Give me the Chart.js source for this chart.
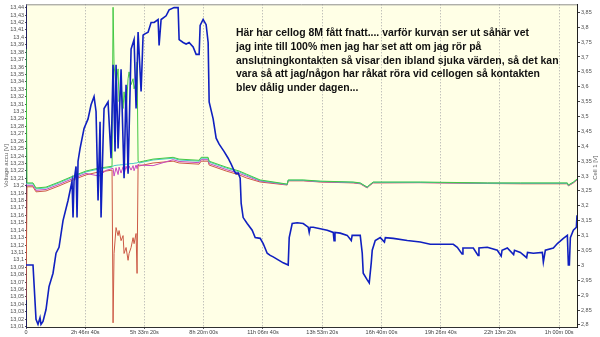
<!DOCTYPE html>
<html>
<head>
<meta charset="utf-8">
<script src="https://cdn.jsdelivr.net/npm/chart.js@4.4.1/dist/chart.umd.min.js"></script>
<style>
  html, body { margin: 0; padding: 0; background: #fff; }
  #c { display: block; }
</style>
</head>
<body>
<canvas id="c" width="600" height="337"></canvas>
<script>
// tid i sekunder från start
const blueTimes = [0, 1182, 1689, 2027, 2365, 2534, 2871, 3378, 3885, 4560, 5067, 5574, 6249, 7094, 7769, 7938, 8107, 8445, 8614, 8783,
  9121, 9796, 10472, 10979, 11486, 11823, 12161, 12498, 12667, 13005, 13174, 13850, 14357, 14695, 15032, 15201, 15539, 16046, 16553, 16890,
  17228, 17735, 18242, 18580, 18918, 19425, 19762, 19931, 20607, 21114, 21621, 22296, 22465, 22803, 23648, 24155, 24999, 25675, 25844, 26520,
  27026, 27533, 28209, 28716, 29222, 29391, 29898, 30405, 30743, 30912, 31587, 32094, 32601, 33446, 34122, 34629, 35135, 35473, 35811, 36149,
  36318, 36655, 37331, 38175, 38682, 39527, 40033, 40709, 41216, 41722, 42567, 43411, 44256, 44425, 44931, 45776, 46789, 47633, 47800, 47970,
  48478, 49660, 50839, 51853, 52000, 52150, 53035, 54218, 54900, 55050, 55231, 56413, 56751, 56920, 57595, 57933, 58271, 58440, 58946, 59791,
  60500, 60650, 61986, 64351, 66546, 68236, 72120, 72796, 73600, 73750, 74485, 75498, 76300, 76450, 77863, 79552, 80200, 80350, 81241, 82300,
  82450, 83436, 84500, 84650, 85632, 87152, 87321, 87659, 89010, 89686, 90699, 91374, 91543, 91712, 91881, 92388, 92894, 93000];
const blueAccu = [13.093, 13.093, 13.020, 13.013, 13.022, 13.013, 13.017, 13.033, 13.064, 13.082, 13.109, 13.117, 13.153, 13.180, 13.206, 13.157, 13.206, 13.226, 13.157, 13.233,
  13.250, 13.277, 13.290, 13.309, 13.320, 13.300, 13.180, 13.286, 13.157, 13.260, 13.304, 13.313, 13.237, 13.363, 13.246, 13.363, 13.250, 13.357, 13.210, 13.336,
  13.216, 13.384, 13.397, 13.304, 13.407, 13.327, 13.403, 13.404, 13.407, 13.420, 13.420, 13.424, 13.389, 13.424, 13.429, 13.437, 13.440, 13.440, 13.397, 13.393,
  13.391, 13.393, 13.387, 13.377, 13.377, 13.416, 13.424, 13.417, 13.393, 13.313, 13.290, 13.264, 13.256, 13.246, 13.237, 13.229, 13.220, 13.216, 13.217, 13.210,
  13.176, 13.157, 13.149, 13.140, 13.130, 13.129, 13.122, 13.109, 13.106, 13.104, 13.100, 13.096, 13.093, 13.130, 13.149, 13.150, 13.149, 13.144, 13.137, 13.144,
  13.144, 13.142, 13.140, 13.137, 13.126, 13.137, 13.136, 13.133, 13.126, 13.133, 13.133, 13.133, 13.109, 13.082, 13.073, 13.069, 13.096, 13.113, 13.126, 13.130,
  13.124, 13.130, 13.129, 13.126, 13.124, 13.121, 13.121, 13.117, 13.108, 13.116, 13.116, 13.116, 13.106, 13.116, 13.117, 13.113, 13.105, 13.113, 13.116, 13.107,
  13.113, 13.110, 13.103, 13.110, 13.109, 13.110, 13.097, 13.113, 13.116, 13.122, 13.129, 13.133, 13.093, 13.093, 13.130, 13.140, 13.144, 13.160];

const cellTimes = [0, 169, 338, 1182, 1689, 3378, 5574, 7938, 10134, 12330, 13512, 14525, 14695, 14863, 15201, 15539, 15708, 16046, 16383, 16552,
  16890, 17228, 17397, 17735, 18072, 18241, 18579, 18748, 18917, 19086, 21450, 24828, 25842, 29220, 29558, 30740, 30909, 33780, 35976, 37158,
  39522, 44083, 44252, 46785, 49657, 55231, 56413, 57595, 57933, 58609, 66547, 77863, 83437, 91375, 91543, 92388, 93000];
const cellGreen = [3.727, 3.277, 3.277, 3.277, 3.260, 3.263, 3.280, 3.300, 3.317, 3.327, 3.330, 3.333, 3.867, 3.673, 3.607, 3.660, 3.550, 3.607, 3.527, 3.583,
  3.517, 3.627, 3.650, 3.607, 3.627, 3.593, 3.617, 3.683, 3.350, 3.347, 3.357, 3.363, 3.357, 3.353, 3.363, 3.363, 3.350, 3.330, 3.317, 3.307,
  3.287, 3.273, 3.287, 3.287, 3.283, 3.280, 3.277, 3.263, 3.270, 3.280, 3.280, 3.277, 3.277, 3.277, 3.270, 3.280, 3.290];
const cellCyan = [3.277, 3.274, 3.274, 3.274, 3.257, 3.260, 3.277, 3.297, 3.314, 3.324, 3.327, 3.330, 3.333, 3.335, 3.336, 3.337, 3.337, 3.338, 3.338, 3.339,
  3.340, 3.340, 3.341, 3.342, 3.342, 3.343, 3.344, 3.344, 3.347, 3.344, 3.354, 3.360, 3.354, 3.350, 3.360, 3.360, 3.347, 3.327, 3.314, 3.304,
  3.285, 3.272, 3.286, 3.286, 3.282, 3.279, 3.276, 3.262, 3.269, 3.279, 3.279, 3.276, 3.276, 3.276, 3.269, 3.279, 3.289];
const cellMagenta = [3.272, 3.269, 3.269, 3.269, 3.252, 3.255, 3.272, 3.292, 3.309, 3.300, 3.319, 3.325, 3.326, 3.300, 3.328, 3.305, 3.330, 3.310, 3.331, 3.306,
  3.333, 3.315, 3.334, 3.320, 3.335, 3.318, 3.337, 3.325, 3.340, 3.337, 3.335, 3.355, 3.349, 3.345, 3.355, 3.355, 3.342, 3.322, 3.309, 3.300,
  3.283, 3.271, 3.285, 3.285, 3.281, 3.278, 3.275, 3.261, 3.268, 3.278, 3.278, 3.276, 3.275, 3.275, 3.268, 3.278, 3.288];
const cellRed = [2.883, 3.264, 3.264, 3.264, 3.247, 3.250, 3.267, 3.287, 3.304, 3.314, 3.317, 3.320, 2.807, 3.040, 3.127, 3.100, 3.117, 3.083, 3.100, 3.040,
  3.060, 3.017, 3.040, 3.060, 3.093, 3.073, 3.107, 2.973, 3.337, 3.334, 3.344, 3.350, 3.344, 3.340, 3.350, 3.350, 3.337, 3.317, 3.304, 3.294,
  3.280, 3.270, 3.284, 3.284, 3.280, 3.277, 3.274, 3.260, 3.267, 3.277, 3.278, 3.275, 3.274, 3.274, 3.267, 3.277, 3.287];

const xTickValues = [0, 10000, 20000, 30000, 40000, 50000, 60000, 70000, 80000, 90000];
const xTickLabels = ["0", "2h 46m 40s", "5h 33m 20s", "8h 20m 00s", "11h 06m 40s", "13h 53m 20s",
  "16h 40m 00s", "19h 26m 40s", "22h 13m 20s", "1h 00m 00s"];
const leftTicks = [];
for (let k = 1301; k <= 1344; k++) leftTicks.push(k / 100);
const rightTicks = [];
for (let k = 56; k <= 77; k++) rightTicks.push(k * 5 / 100);

const noteLines = [
  "Här har cellog 8M fått fnatt.... varför kurvan ser ut såhär vet",
  "jag inte till 100% men jag har set att om jag rör på",
  "anslutningkontakten så visar den ibland sjuka värden, så det kan",
  "vara så att jag/någon har råkat röra vid cellogen så kontakten",
  "blev dålig under dagen..."
];

const pts = (xs, ys) => xs.map((x, i) => ({ x: x, y: ys[i] }));
const fmt = v => String(Math.round(v * 100) / 100).replace('.', ',');
const tickFont = { family: 'Liberation Sans', size: 5.5 };

const decor = {
  id: 'decor',
  beforeDraw(chart) {
    const { ctx, chartArea: a } = chart;
    ctx.save();
    ctx.fillStyle = '#ffffe6';
    ctx.fillRect(a.left, a.top, a.right - a.left, a.bottom - a.top);
    ctx.restore();
  },
  afterDraw(chart) {
    const { ctx, chartArea: a } = chart;
    ctx.save();
    ctx.strokeStyle = '#909090';
    ctx.lineWidth = 1;
    ctx.beginPath();
    ctx.moveTo(a.left, a.top + 0.5);
    ctx.lineTo(a.right, a.top + 0.5);
    ctx.stroke();

    // axeltitlar
    ctx.fillStyle = '#606060';
    ctx.font = '6px "Liberation Sans"';
    ctx.textAlign = 'center';
    ctx.textBaseline = 'middle';
    const mid = (a.top + a.bottom) / 2;
    ctx.save();
    ctx.translate(6, mid);
    ctx.rotate(-Math.PI / 2);
    ctx.fillText('Voltage accu [V]', 0, 0);
    ctx.restore();
    ctx.save();
    ctx.translate(595, mid + 2);
    ctx.rotate(-Math.PI / 2);
    ctx.fillText('Cell 1 [V]', 0, 0);
    ctx.restore();

    // kommentaren
    const fam = '"Comic Sans MS", "Liberation Sans", sans-serif';
    ctx.font = 'bold 10px ' + fam;
    const w = ctx.measureText(noteLines[0]).width;
    const size = 10 * 293 / w;
    ctx.font = 'bold ' + size.toFixed(2) + 'px ' + fam;
    ctx.fillStyle = '#111';
    ctx.textAlign = 'left';
    noteLines.forEach((s, i) => ctx.fillText(s, 236, 33.5 + i * 13.7));
    ctx.restore();
  }
};

new Chart(document.getElementById('c'), {
  type: 'line',
  data: {
    datasets: [
      { label: 'Voltage accu', data: pts(blueTimes, blueAccu), yAxisID: 'yL', borderColor: '#1020c0', borderWidth: 1.6 },
      { label: 'Cell 2', data: pts(cellTimes, cellGreen), yAxisID: 'yR', borderColor: '#44c844', borderWidth: 1 },
      { label: 'Cell 3', data: pts(cellTimes, cellCyan), yAxisID: 'yR', borderColor: '#48c8c8', borderWidth: 1 },
      { label: 'Cell 4', data: pts(cellTimes, cellMagenta), yAxisID: 'yR', borderColor: '#c848c0', borderWidth: 1 },
      { label: 'Cell 1', data: pts(cellTimes, cellRed), yAxisID: 'yR', borderColor: '#cc5a46', borderWidth: 1 }
    ]
  },
  options: {
    responsive: false,
    animation: false,
    layout: { padding: { top: 2 } },
    elements: { point: { radius: 0 }, line: { tension: 0 } },
    plugins: { legend: { display: false }, tooltip: { enabled: false } },
    scales: {
      x: {
        type: 'linear',
        min: 0,
        max: 93000,
        afterFit(s) { s.height = 10; },
        afterBuildTicks(s) { s.ticks = xTickValues.map(v => ({ value: v })); },
        ticks: {
          font: tickFont, color: '#404040', padding: 0, maxRotation: 0, autoSkip: false,
          callback: (v, i) => xTickLabels[i]
        },
        grid: { color: '#a8a8a8', lineWidth: 1, tickLength: 2, tickColor: '#606060', tickBorderDash: [] },
        border: { display: true, color: '#303030', dash: [1, 2] }
      },
      yL: {
        position: 'left',
        min: 13.0095,
        max: 13.4445,
        afterFit(s) { s.width = 26; },
        afterBuildTicks(s) { s.ticks = leftTicks.map(v => ({ value: v })); },
        ticks: { font: tickFont, color: '#505050', padding: 1, autoSkip: false, callback: v => fmt(v) },
        grid: { drawOnChartArea: false, tickLength: 1, color: '#505050' },
        border: { display: true, color: '#202060' }
      },
      yR: {
        position: 'right',
        min: 2.793,
        max: 3.877,
        afterFit(s) { s.width = 23; },
        afterBuildTicks(s) { s.ticks = rightTicks.map(v => ({ value: v })); },
        ticks: { font: tickFont, color: '#505050', padding: 1, autoSkip: false, callback: v => fmt(v) },
        grid: { drawOnChartArea: false, tickLength: 3, color: '#404040' },
        border: { display: true, color: '#202020' }
      }
    }
  },
  plugins: [decor]
});
</script>
</body>
</html>
